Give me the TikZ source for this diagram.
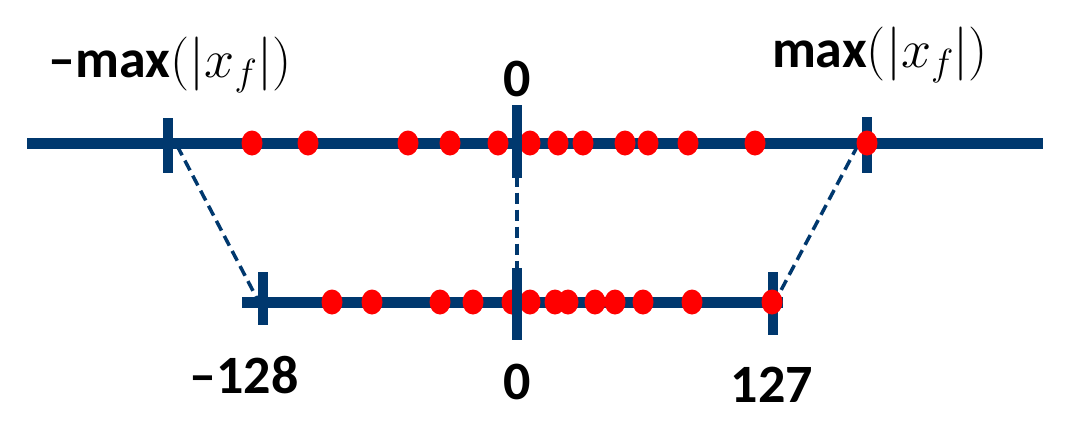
\RequirePackage{fix-cm}
\documentclass[tikz,border=0pt]{standalone}
\usepackage{fontspec}
\setmainfont{Carlito}
\usepackage{tikz}
\usetikzlibrary{positioning}
\usetikzlibrary{shapes.geometric}
\definecolor{axisblue}{RGB}{0,56,110}
\definecolor{dotred}{RGB}{255,0,0}
\pgfdeclarelayer{bg}
\pgfsetlayers{bg,main}
\tikzstyle{axis}=[draw=axisblue,line width=11pt]
\tikzstyle{tickmark}=[rectangle,fill=axisblue,minimum width=10pt,inner sep=0pt]
\tikzstyle{qdot}=[ellipse,fill=dotred,minimum width=21pt,minimum height=25pt,inner sep=0pt]
\tikzstyle{maplink}=[draw=axisblue,line width=3.5pt,dash pattern=on 11pt off 6pt]
\tikzstyle{lbl}=[font=\fontsize{54}{60}\selectfont\bfseries,inner sep=0pt,anchor=base]

\begin{document}
\begin{tikzpicture}[x=1pt,y=-1pt]
  \useasboundingbox (0,0) rectangle (1089,432);

  % end points of the two axes
  \coordinate (topstart) at (27,143);
  \coordinate (topend) at (1043,143);
  \coordinate (botstart) at (242,302);
  \coordinate (botend) at (783,302);

  \draw[axis] (topstart) -- (topend);
  \draw[axis] (botstart) -- (botend);

  % range ticks
  \foreach \x/\y/\name/\h in {168/145.5/tl/55, 867/145/tr/56, 263/298.5/bl/53, 773/303.5/br/63}
     \node[tickmark, minimum height=\h pt] (\name) at (\x,\y) {};

  % float values and their quantized values
  \foreach \x/\name in {252/f1, 308/f2, 408/f3, 450/f4, 498/f5, 530/f6, 558/f7, 583/f8, 625/f9, 648/f10, 688/f11, 755/f12, 867/f13}
     \node[qdot] (\name) at (\x,143) {};

  \foreach \x/\name in {332/q1, 372/q2, 440/q3, 473/q4, 512/q5, 530/q6, 555/q7, 568/q8, 595/q9, 615/q10, 643/q11, 692/q12, 772/q13}
     \node[qdot] (\name) at (\x,302) {};

  % zero ticks
  \foreach \x/\y/\name/\h in {517/141.5/tz/73, 517/304/bz/72}
     \node[tickmark, minimum height=\h pt] (\name) at (\x,\y) {};

  % mapping
  \begin{pgfonlayer}{bg}
  \path[maplink] ([xshift=9pt]tl.center) -- ([xshift=-6pt]bl.center);
  \path[maplink] (tz.center) -- (bz.center);
  \path[maplink] ([xshift=-9pt]tr.center) -- ([xshift=1pt]br.center);
  \end{pgfonlayer}

  % labels
  \node[lbl] (lmin) at (170,77) {--max$\left(\left|x_f\right|\right)$};
  \node[lbl] (lzero) at (517,96) {0};
  \node[lbl] (lmax) at (880,67) {max$\left(\left|x_f\right|\right)$};
  \node[lbl] (qmin) at (244,393) {--128};
  \node[lbl] (qzero) at (517,399) {0};
  \node[lbl] (qmax) at (772,402) {127};

\end{tikzpicture}
\end{document}
